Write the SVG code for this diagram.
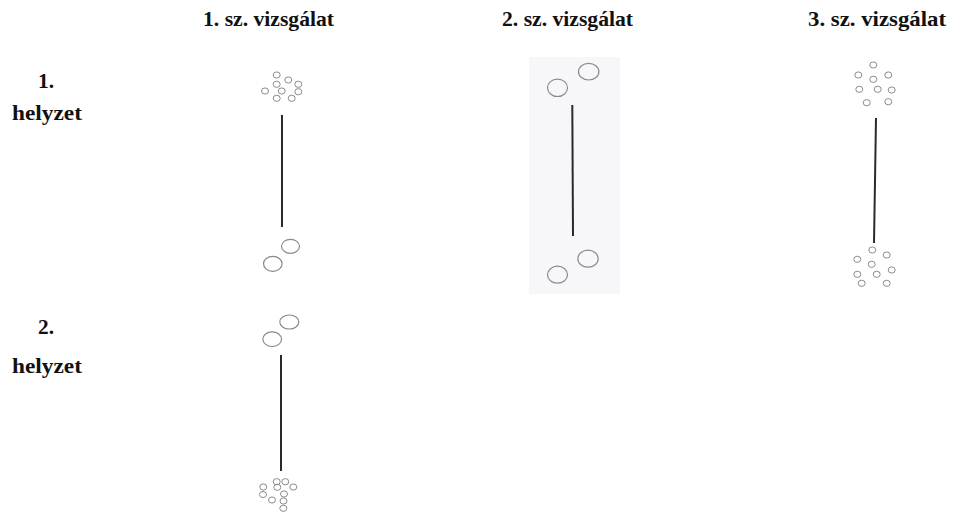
<svg xmlns="http://www.w3.org/2000/svg" width="955" height="513" viewBox="0 0 955 513">
  <style>
    .lbl { font-family: "Liberation Serif", "Times New Roman", serif; font-weight: bold; font-size: 21px; fill: #111; }
    .rod { stroke: #2a2a2a; stroke-width: 2; stroke-linecap: butt; }
    .big { fill: none; stroke: #8a8a8a; stroke-width: 1.2; }
    .dot { fill: none; stroke: #8c8c8c; stroke-width: 1; }
  </style>
  <defs>
    <ellipse id="d" class="dot" cx="0" cy="0" rx="3.5" ry="3.1"/>
  </defs>
  <rect width="955" height="513" fill="#ffffff"/>

  <!-- column headings -->
  <g id="headings">
    <text class="lbl" x="203" y="26" textLength="131" lengthAdjust="spacingAndGlyphs">1. sz. vizsgálat</text>
    <text class="lbl" x="502" y="26" textLength="131" lengthAdjust="spacingAndGlyphs">2. sz. vizsgálat</text>
    <text class="lbl" x="808" y="26" textLength="138" lengthAdjust="spacingAndGlyphs">3. sz. vizsgálat</text>
  </g>

  <!-- row headings -->
  <g id="row1-label">
    <text class="lbl" x="38" y="88" textLength="16" lengthAdjust="spacingAndGlyphs">1.</text>
    <text class="lbl" x="12" y="120" textLength="70" lengthAdjust="spacingAndGlyphs">helyzet</text>
  </g>
  <g id="row2-label">
    <text class="lbl" x="38" y="334" textLength="16" lengthAdjust="spacingAndGlyphs">2.</text>
    <text class="lbl" x="12" y="373" textLength="70" lengthAdjust="spacingAndGlyphs">helyzet</text>
  </g>

  <!-- test 1, position 1: many small charges on top, two large below -->
  <g id="t1p1">
    <line class="rod" x1="282" y1="115" x2="282" y2="227"/>
    <use href="#d" x="276.7" y="75"/>
    <use href="#d" x="288.3" y="80"/>
    <use href="#d" x="276.7" y="84.3"/>
    <use href="#d" x="298.3" y="84.3"/>
    <use href="#d" x="265" y="91"/>
    <use href="#d" x="281.7" y="91"/>
    <use href="#d" x="298.3" y="91.7"/>
    <use href="#d" x="276.7" y="98.3"/>
    <use href="#d" x="291.7" y="98.3"/>
    <ellipse class="big" cx="290.5" cy="246.3" rx="9" ry="7"/>
    <ellipse class="big" cx="272.8" cy="263.8" rx="9.3" ry="7.5"/>
  </g>

  <!-- test 2, position 1: two large charges at each end -->
  <g id="t2p1">
    <rect x="529" y="57" width="91" height="237" fill="#f7f7fa"/>
    <line class="rod" x1="572.3" y1="105" x2="573" y2="236"/>
    <ellipse class="big" cx="588.7" cy="71.7" rx="10.2" ry="8.3"/>
    <ellipse class="big" cx="557.5" cy="87.8" rx="10" ry="8.7"/>
    <ellipse class="big" cx="588" cy="258.7" rx="10.2" ry="8.5"/>
    <ellipse class="big" cx="557.5" cy="274.7" rx="10" ry="8.5"/>
  </g>

  <!-- test 3, position 1: many small charges at each end -->
  <g id="t3p1">
    <line class="rod" x1="876" y1="118" x2="874" y2="243"/>
    <use href="#d" x="873.3" y="65"/>
    <use href="#d" x="858.3" y="75"/>
    <use href="#d" x="888.3" y="75"/>
    <use href="#d" x="873.3" y="79.3"/>
    <use href="#d" x="859.3" y="89.3"/>
    <use href="#d" x="877.7" y="89.3"/>
    <use href="#d" x="891.7" y="90"/>
    <use href="#d" x="866.7" y="102.7"/>
    <use href="#d" x="888.3" y="101.7"/>
    <use href="#d" x="872.3" y="250"/>
    <use href="#d" x="886.7" y="255"/>
    <use href="#d" x="857.3" y="259.3"/>
    <use href="#d" x="871.7" y="264.3"/>
    <use href="#d" x="891.7" y="270"/>
    <use href="#d" x="857.3" y="274.3"/>
    <use href="#d" x="876.7" y="274.3"/>
    <use href="#d" x="861.7" y="283.3"/>
    <use href="#d" x="886.7" y="283.3"/>
  </g>

  <!-- test 1, position 2: two large on top, many small below -->
  <g id="t1p2">
    <line class="rod" x1="281" y1="355" x2="281" y2="471"/>
    <ellipse class="big" cx="289.3" cy="322" rx="9.5" ry="7"/>
    <ellipse class="big" cx="272.2" cy="339.2" rx="9.3" ry="7.3"/>
    <use href="#d" x="276.7" y="481.7"/>
    <use href="#d" x="285.3" y="481.7"/>
    <use href="#d" x="263.3" y="487"/>
    <use href="#d" x="277.3" y="487.3"/>
    <use href="#d" x="293.3" y="487"/>
    <use href="#d" x="263" y="494.5"/>
    <use href="#d" x="284" y="494"/>
    <use href="#d" x="272" y="500"/>
    <use href="#d" x="283.5" y="501"/>
    <use href="#d" x="283.3" y="508.3"/>
  </g>
</svg>
